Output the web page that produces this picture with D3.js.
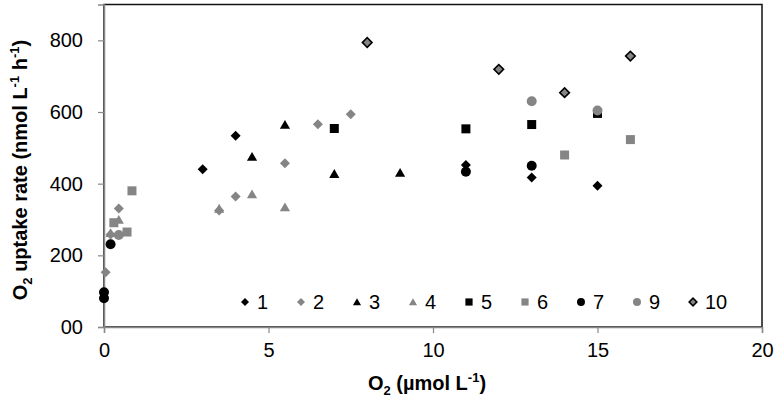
<!DOCTYPE html>
<html>
<head>
    <meta charset="utf-8">
    <title>O2 uptake rate</title>
    <style>
    body { margin: 0; background: #fff; }
    text { font-family: "Liberation Sans", Arial, sans-serif; fill: #000; }
    .tick text { font-size: 20px; }
    .axis-title { font-size: 20px; font-weight: bold; }
    .legend text { font-size: 20px; }
    </style>
</head>
<body>
    <script src="https://cdn.jsdelivr.net/npm/d3@7"></script>
    <script>

    var width = 778,
        height = 403

    // series data, [O2 umol/L, uptake nmol/L/h]
    var s1 = [[3, 440], [4, 534], [11, 452], [13, 417], [15, 394]]
    var s2 = [[0.05, 153], [0.2, 258], [0.45, 331], [3.5, 325], [4, 364], [5.5, 457], [6.5, 566], [7.5, 594]]
    var s3 = [[4.5, 475], [5.5, 564], [7, 427], [9, 430]]
    var s4 = [[0.2, 262], [0.45, 299], [3.5, 330], [4.5, 370], [5.5, 334]]
    var s5 = [[7, 554], [11, 553], [13, 565], [15, 596]]
    var s6 = [[0.3, 291], [0.7, 265], [0.85, 380], [14, 480], [16, 523]]
    var s7 = [[0, 97], [0, 80], [0.2, 231], [11, 433], [13, 450]]
    var s9 = [[0.45, 257], [13, 630], [15, 604]]
    var s10 = [[8, 794], [12, 719], [14, 654], [16, 756]]

    var seriesNames = ['1', '2', '3', '4', '5', '6', '7', '9', '10']
    var seriesData = [s1, s2, s3, s4, s5, s6, s7, s9, s10]

    var xTicks = [0, 5, 10, 15, 20]
    var yTicks = [0, 200, 400, 600, 800]
    var yTickLabels = ['00', '200', '400', '600', '800']

    // marker style per series
    var black = '#000', grey = '#858585'
    var styles = [
        {shape: 'diamond', fill: black},
        {shape: 'diamond', fill: grey},
        {shape: 'triangle', fill: black},
        {shape: 'triangle', fill: grey},
        {shape: 'square', fill: black},
        {shape: 'square', fill: grey},
        {shape: 'circle', fill: black},
        {shape: 'circle', fill: grey},
        {shape: 'diamond', fill: grey, stroke: black, size: 46}
    ]
    var sizes = {diamond: 50, triangle: 45, square: 81, circle: 78}
    var types = {diamond: d3.symbolSquare, triangle: d3.symbolTriangle, square: d3.symbolSquare, circle: d3.symbolCircle}

    var margin = {left: 104, right: 16, top: 4.5, bottom: 76}

    var x = d3.scaleLinear().domain([0, 20]).range([margin.left, width - margin.right])
    var y = d3.scaleLinear().domain([0, 900]).range([height - margin.bottom, margin.top])

    var svg = d3.select('body').append('svg')
        .attr('width', width)
        .attr('height', height)

    // plot frame
    svg.append('rect')
        .attr('x', x(0))
        .attr('y', y(900))
        .attr('width', x(20) - x(0))
        .attr('height', y(0) - y(900))
        .attr('fill', 'none')
        .attr('stroke', '#111')
        .attr('stroke-width', 1.5)

    // axes
    var xAxis = svg.append('g')
        .attr('transform', 'translate(0,' + y(0) + ')')
        .call(d3.axisBottom(x).tickValues(xTicks).tickSize(6).tickPadding(10).tickFormat(d3.format('d')))
    var yAxis = svg.append('g')
        .attr('transform', 'translate(' + x(0) + ',0)')
        .call(d3.axisLeft(y).tickValues(yTicks).tickSize(6).tickPadding(15)
            .tickFormat(function(d, i){ return yTickLabels[i] }))

    ;[xAxis, yAxis].forEach(function(a){
        a.select('.domain').attr('stroke', '#888').attr('stroke-width', 1.5)
        a.selectAll('.tick line').attr('stroke', '#888').attr('stroke-width', 1.2)
        a.selectAll('.tick text').attr('fill', '#000').style('font-family', '"Liberation Sans", Arial, sans-serif')
    })
    xAxis.attr('font-size', null)
    yAxis.attr('font-size', null)

    function symbolPath(st, scale){
        var area = (st.size || sizes[st.shape]) * scale * scale
        return d3.symbol().type(types[st.shape]).size(area)()
    }

    function drawMarker(g, st, px, py, scale){
        var p = g.append('path')
            .attr('d', symbolPath(st, scale))
            .attr('fill', st.fill)
            .attr('stroke', st.stroke || 'none')
            .attr('stroke-width', st.stroke ? 1.6 : 0)
        var tr = 'translate(' + px + ',' + py + ')'
        if (st.shape == 'diamond') tr += ' rotate(45)'
        if (st.shape == 'triangle') tr += ' translate(0,1)'
        p.attr('transform', tr)
    }

    // points
    var plot = svg.append('g')
    seriesData.forEach(function(data, i){
        var g = plot.append('g').attr('class', 'series-' + seriesNames[i])
        data.forEach(function(d){
            drawMarker(g, styles[i], x(d[0]), y(d[1]), 1)
        })
    })

    // legend
    var legend = svg.append('g').attr('class', 'legend')
    seriesNames.forEach(function(name, i){
        var lx = 245 + i * 56, ly = 302
        drawMarker(legend, styles[i], lx, ly, 0.8)
        legend.append('text')
            .attr('x', lx + 12)
            .attr('y', ly + 7)
            .text(name)
    })

    // axis titles
    var xt = svg.append('text')
        .attr('class', 'axis-title')
        .attr('x', (x(0) + x(20)) / 2 - 6)
        .attr('y', 390)
        .attr('text-anchor', 'middle')
    xt.append('tspan').text('O')
    xt.append('tspan').attr('font-size', 13).attr('dy', 5).text('2')
    xt.append('tspan').attr('dy', -5).text(' (µmol L')
    xt.append('tspan').attr('font-size', 13).attr('dy', -8).text('-1')
    xt.append('tspan').attr('dy', 8).text(')')

    var yt = svg.append('text')
        .attr('class', 'axis-title')
        .attr('transform', 'translate(27,' + 170 + ') rotate(-90)')
        .attr('text-anchor', 'middle')
    yt.append('tspan').text('O')
    yt.append('tspan').attr('font-size', 13).attr('dy', 5).text('2')
    yt.append('tspan').attr('dy', -5).text(' uptake rate (nmol L')
    yt.append('tspan').attr('font-size', 13).attr('dy', -8).text('-1')
    yt.append('tspan').attr('dy', 8).text(' h')
    yt.append('tspan').attr('font-size', 13).attr('dy', -8).text('-1')
    yt.append('tspan').attr('dy', 8).text(')')

    </script>
</body>
</html>
